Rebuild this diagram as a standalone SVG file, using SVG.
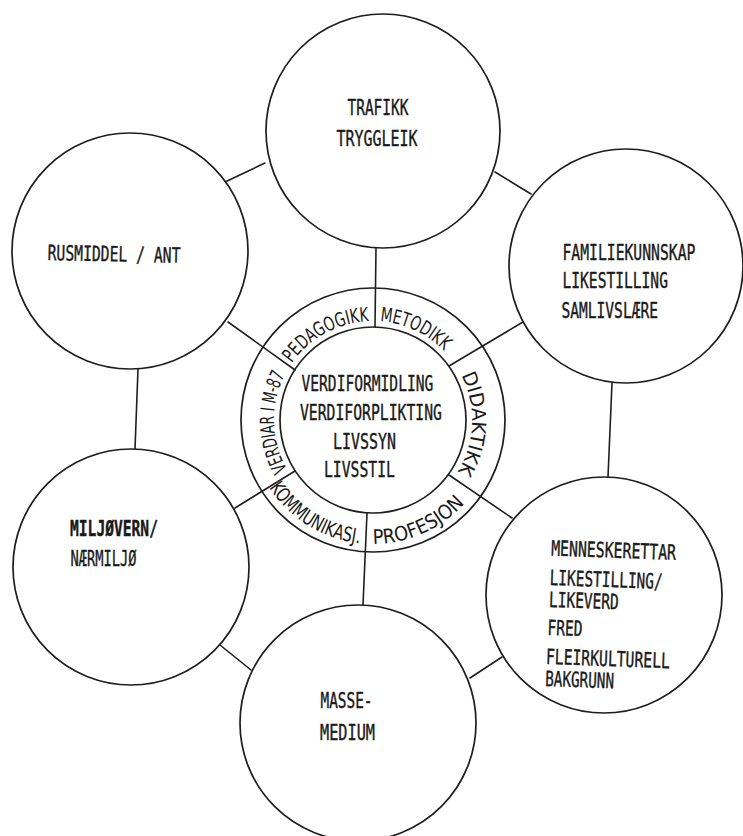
<svg xmlns="http://www.w3.org/2000/svg" width="743" height="836" viewBox="0 0 743 836">
<style>
.ln{stroke:#1e1e1e;stroke-width:1.6;fill:none;stroke-linecap:round}
.nd{stroke:#1e1e1e;stroke-width:1.7;fill:#fff}
.rg{stroke:#1e1e1e;stroke-width:1.7;fill:none}
.tw{font-family:"DejaVu Sans Mono","Liberation Mono",monospace;font-size:21px;fill:#1a1a1a;stroke:#1a1a1a;stroke-width:0.4}
.tc{font-family:"DejaVu Sans Mono","Liberation Mono",monospace;font-size:22px;fill:#1a1a1a;stroke:#1a1a1a;stroke-width:0.4}
.hw{font-family:"DejaVu Sans","Liberation Sans",sans-serif;font-size:19.5px;fill:#1a1a1a}
.hb{font-family:"DejaVu Sans","Liberation Sans",sans-serif;font-size:20px;fill:#1a1a1a}
</style>
<defs>
<path id="p-ped" d="M291.9,363.2 A99,99 0 0 1 369.5,321.1"/>
<path id="p-met" d="M379.9,321.2 A99,99 0 0 1 444.2,351.2"/>
<path id="p-did" d="M461.2,375.1 A99,99 0 0 1 457.0,472.5"/>
<path id="p-ver" d="M287.3,469.5 A99,99 0 0 1 285.6,373.5"/>
<path id="p-kom" d="M269.0,487.5 A124,124 0 0 0 362.2,543.5"/>
<path id="p-pro" d="M373,544 A124,124 0 0 0 468.0,499.7"/>
</defs>
<rect x="0" y="0" width="743" height="836" fill="#fff"/>
<g id="connectors">
<line class="ln" x1="376" y1="248" x2="375" y2="327"/>
<line class="ln" x1="449" y1="366" x2="523" y2="322"/>
<line class="ln" x1="449" y1="475" x2="512" y2="518"/>
<line class="ln" x1="367" y1="513" x2="363" y2="605"/>
<line class="ln" x1="295" y1="471" x2="235" y2="508"/>
<line class="ln" x1="295" y1="370" x2="228" y2="322"/>
<line class="ln" x1="225" y1="182" x2="265" y2="163"/>
<line class="ln" x1="495" y1="172" x2="531" y2="194"/>
<line class="ln" x1="138" y1="369" x2="135" y2="449"/>
<line class="ln" x1="612" y1="383" x2="608" y2="477"/>
<line class="ln" x1="220" y1="645" x2="251" y2="670"/>
<line class="ln" x1="470" y1="678" x2="502" y2="657"/>
</g>
<g id="trafikk">
<circle class="nd" cx="383" cy="131" r="117"/>
<text class="tw" transform="translate(347.5 115) scale(0.689 1)">TRAFIKK</text>
<text class="tw" transform="translate(336.5 145.5) scale(0.712 1)">TRYGGLEIK</text>
</g>
<g id="rusmiddel">
<circle class="nd" cx="130" cy="251" r="118"/>
<text class="tw" transform="rotate(1.2 47 258) translate(47.5 260) scale(0.701 1)">RUSMIDDEL / ANT</text>
</g>
<g id="familie">
<circle class="nd" cx="626" cy="266" r="117"/>
<text class="tw" transform="translate(562.5 260) scale(0.701 1)">FAMILIEKUNNSKAP</text>
<text class="tw" transform="translate(562.5 288) scale(0.695 1)">LIKESTILLING</text>
<text class="tw" transform="translate(561.5 318) scale(0.694 1)">SAMLIVSLÆRE</text>
</g>
<g id="miljo">
<circle class="nd" cx="131" cy="567" r="118"/>
<text class="tw" font-weight="bold" transform="translate(70 536) scale(0.696 1)">MILJØVERN/</text>
<text class="tw" transform="translate(70.5 566) scale(0.653 1)">NÆRMILJØ</text>
</g>
<g id="menneske">
<circle class="nd" cx="604" cy="595" r="118"/>
<g transform="rotate(2 551 540)">
<text class="tw" transform="translate(551.5 555.5) scale(0.706 1)">MENNESKERETTAR</text>
<text class="tw" transform="translate(551 585) scale(0.688 1)">LIKESTILLING/</text>
<text class="tw" transform="translate(551 607) scale(0.692 1)">LIKEVERD</text>
<text class="tw" transform="translate(550.5 635) scale(0.692 1)">FRED</text>
<text class="tw" transform="translate(550 664) scale(0.701 1)">FLEIRKULTURELL</text>
<text class="tw" transform="translate(550 686) scale(0.682 1)">BAKGRUNN</text>
</g>
</g>
<g id="masse">
<circle class="nd" cx="358" cy="723" r="118"/>
<text class="tw" transform="translate(320.5 708) scale(0.686 1)">MASSE-</text>
<text class="tw" transform="translate(320 739.5) scale(0.725 1)">MEDIUM</text>
</g>
<g id="center">
<circle class="rg" cx="373" cy="420" r="132"/>
<circle class="rg" cx="373" cy="420" r="93"/>
<text class="tc" transform="translate(301.5 391) scale(0.664 1)">VERDIFORMIDLING</text>
<text class="tc" transform="translate(300 420) scale(0.670 1)">VERDIFORPLIKTING</text>
<text class="tc" transform="translate(333 449) scale(0.680 1)">LIVSSYN</text>
<text class="tc" transform="translate(324 477) scale(0.670 1)">LIVSSTIL</text>
<text class="hw"><textPath href="#p-ped" textLength="91" lengthAdjust="spacingAndGlyphs">PEDAGOGIKK</textPath></text>
<text class="hw"><textPath href="#p-met" textLength="72" lengthAdjust="spacingAndGlyphs">METODIKK</textPath></text>
<text class="hw"><textPath href="#p-did" textLength="101" lengthAdjust="spacingAndGlyphs">DIDAKTIKK</textPath></text>
<text class="hw"><textPath href="#p-ver" textLength="99" lengthAdjust="spacingAndGlyphs">VERDIAR I M-87</textPath></text>
<text class="hb"><textPath href="#p-kom" textLength="110" lengthAdjust="spacingAndGlyphs">KOMMUNIKASJ.</textPath></text>
<text class="hb"><textPath href="#p-pro" textLength="103" lengthAdjust="spacingAndGlyphs">PROFESJON</textPath></text>
</g>
</svg>
